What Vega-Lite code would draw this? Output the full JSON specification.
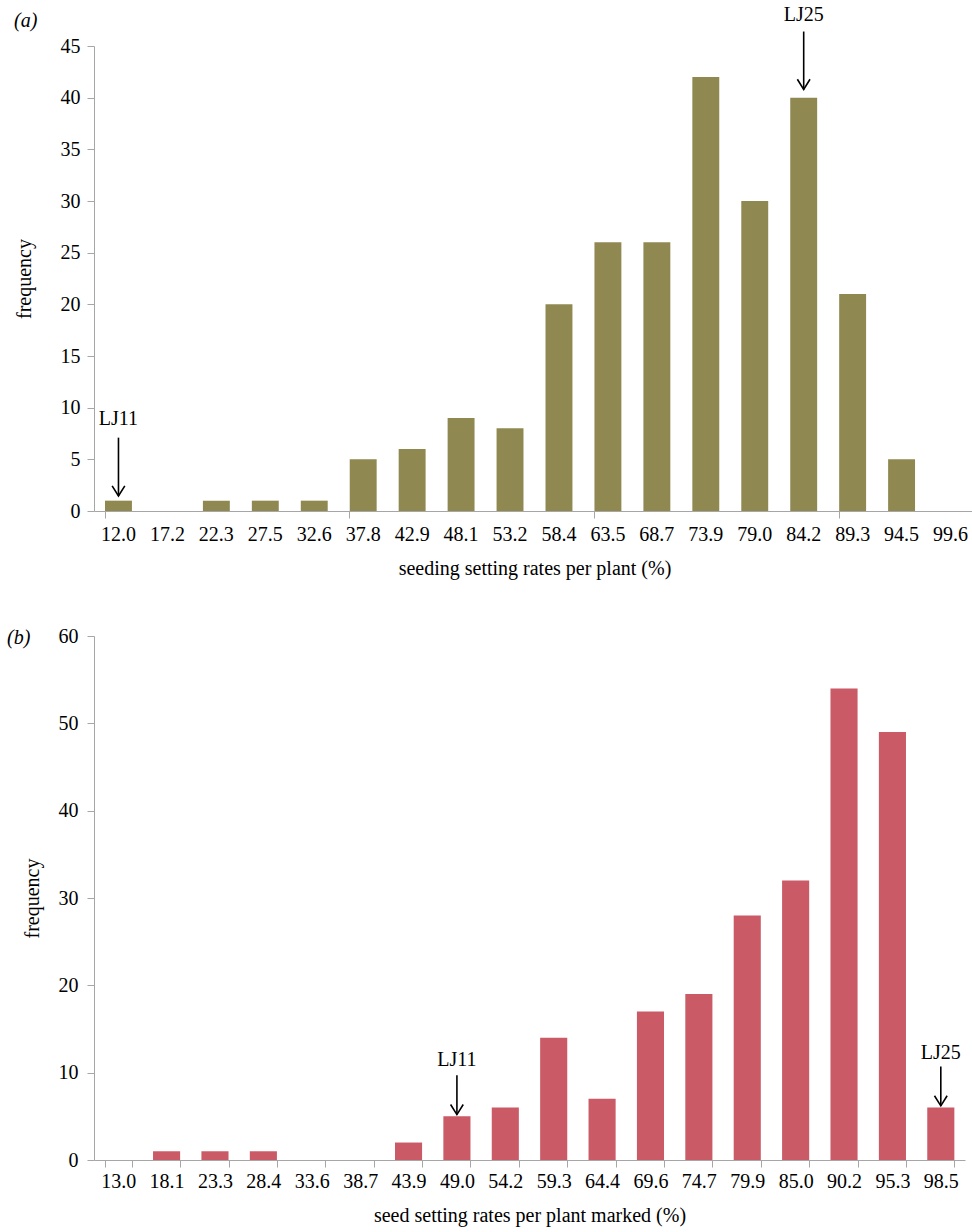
{
  "$schema": "https://vega.github.io/schema/vega-lite/v6.json",
  "background": "white",
  "padding": {"left": 7, "top": 5, "right": 0, "bottom": 5},
  "config": {
    "font": "Liberation Serif",
    "view": {"stroke": null},
    "axis": {
      "labelFont": "Liberation Serif",
      "titleFont": "Liberation Serif",
      "labelFontSize": 20,
      "titleFontSize": 20,
      "titleFontWeight": "normal",
      "labelColor": "#000000",
      "titleColor": "#000000",
      "domainColor": "#a6a6a6",
      "tickColor": "#a6a6a6",
      "grid": false,
      "tickSize": 7
    },
    "title": {"font": "Liberation Serif", "fontSize": 20, "fontWeight": "normal", "fontStyle": "italic", "color": "#000000", "anchor": "start", "frame": "group"}
  },
  "datasets": {
    "binsA": [
      {"bin": "12.0", "count": 1}, {"bin": "17.2", "count": 0}, {"bin": "22.3", "count": 1},
      {"bin": "27.5", "count": 1}, {"bin": "32.6", "count": 1}, {"bin": "37.8", "count": 5},
      {"bin": "42.9", "count": 6}, {"bin": "48.1", "count": 9}, {"bin": "53.2", "count": 8},
      {"bin": "58.4", "count": 20}, {"bin": "63.5", "count": 26}, {"bin": "68.7", "count": 26},
      {"bin": "73.9", "count": 42}, {"bin": "79.0", "count": 30}, {"bin": "84.2", "count": 40},
      {"bin": "89.3", "count": 21}, {"bin": "94.5", "count": 5}, {"bin": "99.6", "count": 0}
    ],
    "marksA": [
      {"bin": "12.0", "label": "LJ11", "tip": 1.45, "tail": 7.1, "textY": 8.9},
      {"bin": "84.2", "label": "LJ25", "tip": 40.8, "tail": 46.4, "textY": 48.0}
    ],
    "binsB": [
      {"bin": "13.0", "count": 0}, {"bin": "18.1", "count": 1}, {"bin": "23.3", "count": 1},
      {"bin": "28.4", "count": 1}, {"bin": "33.6", "count": 0}, {"bin": "38.7", "count": 0},
      {"bin": "43.9", "count": 2}, {"bin": "49.0", "count": 5}, {"bin": "54.2", "count": 6},
      {"bin": "59.3", "count": 14}, {"bin": "64.4", "count": 7}, {"bin": "69.6", "count": 17},
      {"bin": "74.7", "count": 19}, {"bin": "79.9", "count": 28}, {"bin": "85.0", "count": 32},
      {"bin": "90.2", "count": 54}, {"bin": "95.3", "count": 49}, {"bin": "98.5", "count": 6}
    ],
    "marksB": [
      {"bin": "49.0", "label": "LJ11", "tip": 5.2, "tail": 9.7, "textY": 11.5},
      {"bin": "98.5", "label": "LJ25", "tip": 6.2, "tail": 10.7, "textY": 12.3}
    ]
  },
  "columns": 1,
  "align": "none",
  "spacing": 48,
  "concat": [
    {
      "width": 881,
      "height": 465,
      "title": {"text": "(a)", "dx": -80, "offset": 14, "dy": 40},
      "resolve": {"axis": {"x": "independent"}},
      "layer": [
        {
          "data": {"name": "binsA"},
          "mark": {"type": "bar", "color": "#8f8850"},
          "encoding": {
            "x": {
              "field": "bin", "type": "ordinal", "sort": null,
              "scale": {"domain": ["12.0","17.2","22.3","27.5","32.6","37.8","42.9","48.1","53.2","58.4","63.5","68.7","73.9","79.0","84.2","89.3","94.5","99.6"], "paddingInner": 0.45, "paddingOuter": 0.225},
              "axis": {"orient": "bottom", "title": "seeding setting rates per plant (%)", "labelAngle": 0, "ticks": false, "labelPadding": 13, "titlePadding": 14}
            },
            "y": {
              "field": "count", "type": "quantitative", "title": "frequency",
              "scale": {"domain": [0, 45], "nice": false},
              "axis": {"values": [0,5,10,15,20,25,30,35,40,45], "labelPadding": 7, "titlePadding": 26}
            }
          }
        },
        {
          "data": {"name": "marksA"},
          "mark": {"type": "rule", "color": "#000000", "strokeWidth": 1.6},
          "encoding": {
            "x": {
              "field": "bin", "type": "ordinal", "sort": null,
              "axis": {"orient": "bottom", "title": null, "labels": false, "domain": false, "ticks": true, "bandPosition": 0, "values": ["12.0","37.8","63.5","89.3"]}
            },
            "y": {"field": "tail", "type": "quantitative", "title": "frequency"},
            "y2": {"field": "tip"}
          }
        },
        {
          "data": {"name": "marksA"},
          "mark": {"type": "point", "shape": "M-1,-1.6L0,0L1,-1.6", "filled": false, "stroke": "#000000", "strokeWidth": 1.6, "size": 160, "opacity": 1},
          "encoding": {
            "x": {"field": "bin", "type": "ordinal", "sort": null, "axis": null},
            "y": {"field": "tip", "type": "quantitative", "title": "frequency"}
          }
        },
        {
          "data": {"name": "marksA"},
          "mark": {"type": "text", "font": "Liberation Serif", "fontSize": 20, "baseline": "middle", "color": "#000000"},
          "encoding": {
            "x": {"field": "bin", "type": "ordinal", "sort": null, "axis": null},
            "y": {"field": "textY", "type": "quantitative", "title": "frequency"},
            "text": {"field": "label"}
          }
        }
      ]
    },
    {
      "width": 871,
      "height": 524,
      "title": {"text": "(b)", "dx": -87, "offset": 0, "dy": 22},
      "layer": [
        {
          "data": {"name": "binsB"},
          "mark": {"type": "bar", "color": "#c95a66"},
          "encoding": {
            "x": {
              "field": "bin", "type": "ordinal", "sort": null, "title": "seed setting rates per plant marked (%)",
              "scale": {"domain": ["13.0","18.1","23.3","28.4","33.6","38.7","43.9","49.0","54.2","59.3","64.4","69.6","74.7","79.9","85.0","90.2","95.3","98.5"], "paddingInner": 0.44, "paddingOuter": 0.22},
              "axis": {"labelAngle": 0, "ticks": true, "tickBand": "extent", "labelPadding": 4, "titlePadding": 14}
            },
            "y": {
              "field": "count", "type": "quantitative", "title": "frequency",
              "scale": {"domain": [0, 60], "nice": false},
              "axis": {"values": [0,10,20,30,40,50,60], "labelPadding": 9, "titlePadding": 16}
            }
          }
        },
        {
          "data": {"name": "marksB"},
          "mark": {"type": "rule", "color": "#000000", "strokeWidth": 1.6},
          "encoding": {
            "x": {"field": "bin", "type": "ordinal", "sort": null, "title": "seed setting rates per plant marked (%)"},
            "y": {"field": "tail", "type": "quantitative", "title": "frequency"},
            "y2": {"field": "tip"}
          }
        },
        {
          "data": {"name": "marksB"},
          "mark": {"type": "point", "shape": "M-1,-1.6L0,0L1,-1.6", "filled": false, "stroke": "#000000", "strokeWidth": 1.6, "size": 160, "opacity": 1},
          "encoding": {
            "x": {"field": "bin", "type": "ordinal", "sort": null, "title": "seed setting rates per plant marked (%)"},
            "y": {"field": "tip", "type": "quantitative", "title": "frequency"}
          }
        },
        {
          "data": {"name": "marksB"},
          "mark": {"type": "text", "font": "Liberation Serif", "fontSize": 20, "baseline": "middle", "color": "#000000"},
          "encoding": {
            "x": {"field": "bin", "type": "ordinal", "sort": null, "title": "seed setting rates per plant marked (%)"},
            "y": {"field": "textY", "type": "quantitative", "title": "frequency"},
            "text": {"field": "label"}
          }
        }
      ]
    }
  ]
}
